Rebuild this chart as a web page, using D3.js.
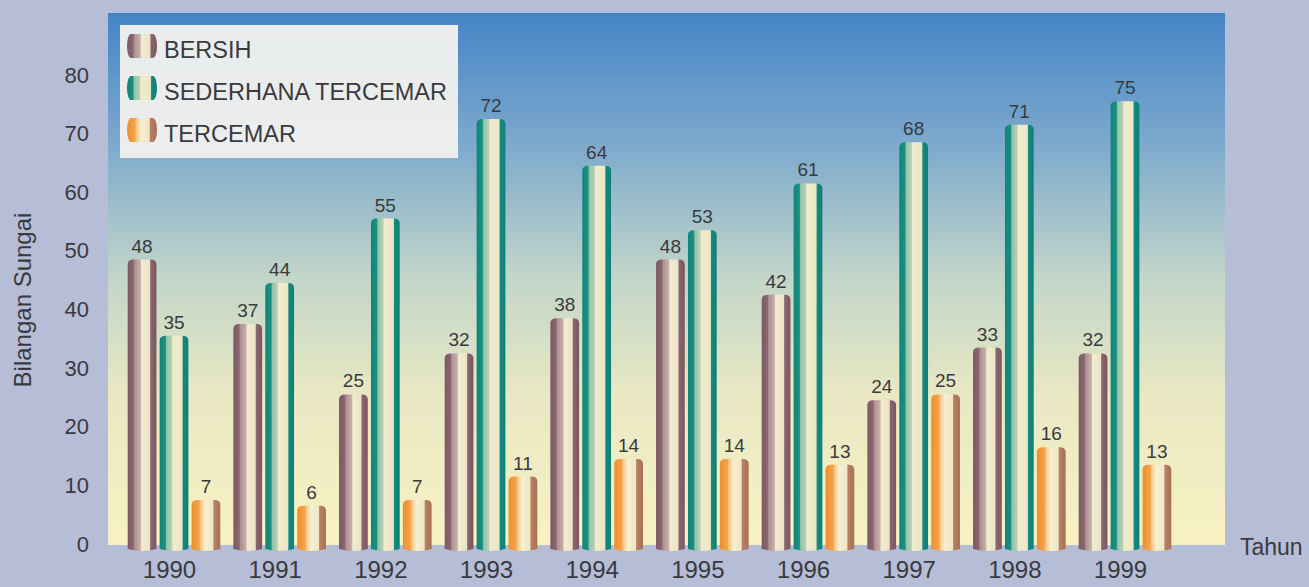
<!DOCTYPE html>
<html>
<head>
<meta charset="utf-8">
<style>
body { margin: 0; background: #b6bdd7; }
text { font-family: "Liberation Sans", Arial, sans-serif; fill: #3a3a3e; }
</style>
</head>
<body>
<script src="https://cdn.jsdelivr.net/npm/d3@7/dist/d3.min.js"></script>
<script>

var years = ["1990","1991","1992","1993","1994","1995","1996","1997","1998","1999"];
var seriesNames = ["BERSIH", "SEDERHANA TERCEMAR", "TERCEMAR"];
var bersih    = [48, 37, 25, 32, 38, 48, 42, 24, 33, 32];
var sederhana = [35, 44, 55, 72, 64, 53, 61, 68, 71, 75];
var tercemar  = [7, 6, 7, 11, 14, 14, 13, 25, 16, 13];
var yTicks = [0, 10, 20, 30, 40, 50, 60, 70, 80];

var values = [bersih, sederhana, tercemar];

var width = 1309, height = 587;
var plot = { left: 108, right: 1225, top: 13, bottom: 545 };

var svg = d3.select("body").append("svg")
    .attr("width", width)
    .attr("height", height);

var defs = svg.append("defs");

// background of the plot area
var bg = defs.append("linearGradient")
    .attr("id", "sky")
    .attr("x1", 0).attr("y1", 0).attr("x2", 0).attr("y2", 1);
[["0%", "#4484c6"], ["25%", "#7eaacd"], ["50%", "#c3d6c9"], ["72%", "#e9e8c3"], ["100%", "#f8f2c3"]]
  .forEach(function(s) { bg.append("stop").attr("offset", s[0]).attr("stop-color", s[1]); });

// cylinder stripes for each series
var stripes = [
  [["0%", "#7d5964"], ["20%", "#8a6670"], ["24%", "#ad8e92"], ["44%", "#c7b0a8"], ["48%", "#f1ebd0"], ["76%", "#ece4c6"], ["80%", "#8a6670"], ["100%", "#7a5661"]],
  [["0%", "#0f857b"], ["20%", "#1a917f"], ["24%", "#93c1a8"], ["42%", "#b7d2b4"], ["46%", "#f0ecce"], ["78%", "#ebe6c4"], ["82%", "#138a80"], ["100%", "#0f7f76"]],
  [["0%", "#ee8f30"], ["26%", "#f2a448"], ["32%", "#f6c88c"], ["42%", "#f4e2bc"], ["48%", "#f6efd2"], ["74%", "#f0e6c4"], ["78%", "#b78163"], ["100%", "#a87055"]]
];
stripes.forEach(function(st, i) {
  var g = defs.append("linearGradient")
      .attr("id", "cyl" + i)
      .attr("x1", 0).attr("y1", 0).attr("x2", 1).attr("y2", 0);
  st.forEach(function(s) { g.append("stop").attr("offset", s[0]).attr("stop-color", s[1]); });
});

var y = d3.scaleLinear()
    .domain([0, 80])
    .range([544, 75]);

var x = d3.scalePoint()
    .domain(years)
    .range([174, 1125]);

var xs = d3.scaleBand()
    .domain(seriesNames)
    .range([-49.5, 49.5])
    .padding(0.1);

svg.append("rect")
    .attr("x", plot.left).attr("y", plot.top)
    .attr("width", plot.right - plot.left)
    .attr("height", plot.bottom - plot.top)
    .attr("fill", "url(#sky)");

// y axis ticks (labels only)
var yAxis = d3.axisLeft(y).tickValues(yTicks).tickSize(0).tickPadding(0);
var ya = svg.append("g")
    .attr("transform", "translate(89,0)")
    .call(yAxis);
ya.select(".domain").remove();
ya.selectAll("text")
    .attr("font-size", 22)
    .attr("font-family", "Liberation Sans, Arial, sans-serif")
    .attr("fill", "#3a3a3e");

// x axis labels
var xAxis = d3.axisBottom(x).tickSize(0).tickPadding(0);
var xa = svg.append("g")
    .attr("transform", "translate(-5,561)")
    .call(xAxis);
xa.select(".domain").remove();
xa.selectAll("text")
    .attr("font-size", 24)
    .attr("font-family", "Liberation Sans, Arial, sans-serif")
    .attr("fill", "#3a3a3e");

svg.append("text")
    .attr("x", 1240).attr("y", 555)
    .attr("font-size", 23)
    .text("Tahun");

svg.append("text")
    .attr("transform", "translate(31,300) rotate(-90)")
    .attr("text-anchor", "middle")
    .attr("font-size", 24)
    .text("Bilangan Sungai");

function cylinder(x0, w, top, bottom) {
  var r = w / 2, ry = 5;
  return "M" + x0 + "," + bottom +
    "L" + x0 + "," + (top + ry) +
    "Q" + x0 + "," + top + " " + (x0 + 6) + "," + top +
    "L" + (x0 + w - 6) + "," + top +
    "Q" + (x0 + w) + "," + top + " " + (x0 + w) + "," + (top + ry) +
    "L" + (x0 + w) + "," + bottom +
    "Q" + (x0 + r) + "," + (bottom + 4) + " " + x0 + "," + bottom + "Z";
}

var groups = svg.selectAll("g.year")
    .data(years)
  .enter().append("g")
    .attr("class", "year")
    .attr("transform", function(d) { return "translate(" + x(d) + ",0)"; });

groups.each(function(yr, yi) {
  var g = d3.select(this);
  seriesNames.forEach(function(s, si) {
    var v = values[si][yi];
    var bx = xs(s), bw = xs.bandwidth();
    var top = y(v) - 3;
    g.append("path")
        .attr("d", cylinder(bx, bw, top, 549))
        .attr("fill", "url(#cyl" + si + ")");
    g.append("text")
        .attr("x", bx + bw / 2)
        .attr("y", top - 7)
        .attr("text-anchor", "middle")
        .attr("font-size", 19)
        .text(v);
  });
});

// legend
var legend = svg.append("g");
legend.append("rect")
    .attr("x", 120).attr("y", 25)
    .attr("width", 338).attr("height", 133)
    .attr("fill", "#f0f0ee")
    .attr("fill-opacity", 0.96);

seriesNames.forEach(function(s, i) {
  var ly = 46 + i * 42;
  legend.append("path")
      .attr("d", "M" + 131 + "," + (ly - 12) + "h22a4,12 0 0 1 0,24h-22a4,12 0 0 1 0,-24Z")
      .attr("fill", "url(#cyl" + i + ")");
  legend.append("text")
      .attr("x", 164).attr("y", ly + 12)
      .attr("font-size", 23.5)
      .text(s);
});

</script>
</body>
</html>
